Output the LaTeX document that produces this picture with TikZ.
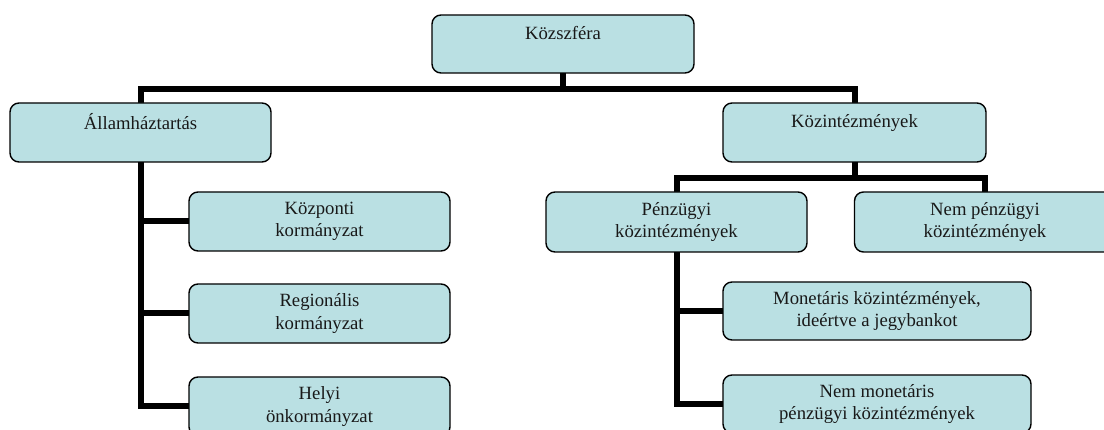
\documentclass[tikz,border=0pt]{standalone}
\usepackage{fontspec}
\setmainfont{Liberation Serif}
\usetikzlibrary{backgrounds}
\definecolor{boxfill}{RGB}{186,224,227}
\tikzset{
  box/.style={draw=black, line width=1.4pt, fill=boxfill, rounded corners=9pt,
    inner sep=0pt, outer sep=0pt, align=center,
    font=\fontsize{18.7}{22.5}\selectfont, text=black!90},
  conn/.style={line width=6pt, black, line join=miter}
}
\begin{document}
\begin{tikzpicture}[x=1pt,y=-1pt]
\clip (0,0) rectangle (1104,430);
\node[box, minimum width=262, minimum height=58] (top) at (563,44) {Közszféra\\ \mbox{}};
\node[box, minimum width=261, minimum height=59] (st) at (140.5,132.5) {Államháztartás\\ \mbox{}};
\node[box, minimum width=263, minimum height=59] (ki) at (854.5,132.5) {Közintézmények\\ \mbox{}};
\node[box, minimum width=261, minimum height=59] (kp) at (319.5,221.5) {Központi\\kormányzat};
\node[box, minimum width=261, minimum height=59] (reg) at (319.5,313.5) {Regionális\\kormányzat};
\node[box, minimum width=261, minimum height=59] (hely) at (319.5,406.5) {Helyi\\önkormányzat};
\node[box, minimum width=261, minimum height=60] (pu) at (676.5,222) {Pénzügyi\\közintézmények};
\node[box, minimum width=261, minimum height=60] (npu) at (985,222) {Nem pénzügyi\\közintézmények};
\node[box, minimum width=308, minimum height=58] (mon) at (877,311) {Monetáris közintézmények,\\ideértve a jegybankot};
\node[box, minimum width=308, minimum height=58] (nmon) at (877,404) {Nem monetáris\\pénzügyi közintézmények};
\coordinate (b1) at (563,89);
\coordinate (b2) at (854.5,178);
\begin{pgfonlayer}{background}
\draw[conn] (top.south) -- (b1);
\draw[conn] (st.north) |- (b1) -| (ki.north);
\draw[conn] (st.south) |- (hely.west);
\draw[conn] (kp.west) -- (kp.west -| st.south);
\draw[conn] (reg.west) -- (reg.west -| st.south);
\draw[conn] (ki.south) -- (b2);
\draw[conn] (pu.north) |- (b2) -| (npu.north);
\draw[conn] (pu.south) |- (nmon.west);
\draw[conn] (mon.west) -- (mon.west -| pu.south);
\end{pgfonlayer}
\end{tikzpicture}
\end{document}
